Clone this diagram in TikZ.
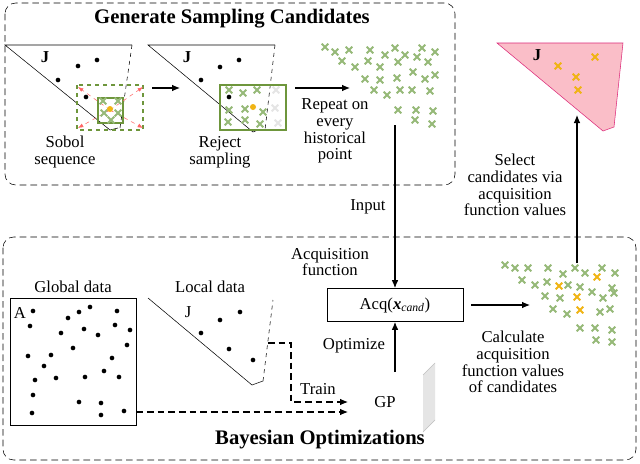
\documentclass[tikz,border=0pt]{standalone}
\usepackage{fontspec}
\setmainfont{Liberation Serif}
\usetikzlibrary{shapes.misc,arrows.meta}
\definecolor{gcr}{RGB}{150,185,120}
\definecolor{ycr}{RGB}{240,180,20}
\definecolor{gbox}{RGB}{110,150,60}
\definecolor{pinkf}{RGB}{250,190,200}
\definecolor{pinkd}{RGB}{220,40,120}
\begin{document}
\begin{tikzpicture}[x=0.75pt,y=-0.75pt,font=\rmfamily,
  gx/.style={cross out,draw=gcr,line width=1.4pt,minimum size=3.6pt,inner sep=0pt},
  lx/.style={cross out,draw=gray!20,line width=1.4pt,minimum size=3.6pt,inner sep=0pt},
  yx/.style={cross out,draw=ycr,line width=1.4pt,minimum size=3.6pt,inner sep=0pt},
  dot/.style={circle,fill=black,inner sep=0pt,minimum size=3.5pt},
  ydot/.style={circle,fill=ycr,inner sep=0pt,minimum size=4.5pt},
  grp/.style={draw,dash pattern=on 5pt off 3pt,rounded corners=8pt},
  lbl/.style={align=center,font=\rmfamily\fontsize{12.5}{12.5}\selectfont},
  ttl/.style={font=\rmfamily\fontsize{15.5}{17}\selectfont\bfseries},
  arr/.style={-{Latex[length=6pt,width=5pt]},thick},
  darr/.style={-{Latex[length=6pt,width=5pt]},thick,dash pattern=on 5pt off 3pt}]
\path[use as bounding box,fill=white] (0,0) rectangle (640,464);
% groups
\draw[grp] (5,3) rectangle (455,185);
\draw[grp] (3,237) rectangle (636,460);
\node[ttl] (t1) at (232,19) {Generate Sampling Candidates};
\node[ttl] (t2) at (320,440) {Bayesian Optimizations};
% Sobol panel
\draw (132,45) -- (5,45) -- (110,130) -- (118,128);
\draw[dashed] (132,45) -- (120,128);
\node[lbl] (j1) at (45,57) {\bfseries J};
\foreach \p in {(78,66),(97,60),(58,80),(86,97)} \node[dot] at \p {};
\draw[gbox,dashed,thick] (77,85) rectangle (143,130);
\draw[gbox,thick] (98,98) rectangle (123,123);
\foreach \p in {(78,87),(143,87),(78,128),(143,128)} \draw[red!60,dashed,-{Latex[length=4pt]}] (110,110) -- \p;
\foreach \p in {(103,101),(118,101),(104,113),(118,113),(111,120)} \node[gx] at \p {};
\node[ydot] at (110,109) {};
\node[lbl] (s1) at (65,152) {Sobol\\sequence};
\draw[arr] (152,88) -- (180,88);
% Reject panel
\draw (275,45) -- (148,45) -- (253,132) -- (258,130);
\draw[dashed] (275,45) -- (265,130);
\node[lbl] (j2) at (187,57) {\bfseries J};
\foreach \p in {(220,67),(239,60),(201,80)} \node[dot] at \p {};
\draw[gbox,thick] (220,85) rectangle (286,130);
\foreach \p in {(276,90),(275,108),(278,123)} \node[lx] at \p {};
\foreach \p in {(229,90),(243,93),(257,90),(229,110),(245,109),(263,112),(228,122),(245,120),(260,124)} \node[gx] at \p {};
\node[dot] at (229,97) {};
\node[ydot] at (253,107) {};
\node[lbl] (s2) at (220,152) {Reject\\sampling};
\draw[arr] (295,88) -- (350,88);
\node[lbl] (rep) at (335,131) {Repeat on\\every\\historical\\point};
% candidate cluster
\foreach \p in {(325,47),(335,52),(349,50),(370,50),(385,55),(395,48),(405,55),(422,48),(435,52),(342,61),(355,67),(368,61),(380,67),(398,62),(417,57),(428,62),(365,79),(380,80),(397,78),(413,72),(425,79),(435,75),(374,90),(387,95),(400,90),(412,90),(430,91),(398,110),(416,110),(433,111),(415,120),(432,124)} \node[gx] at \p {};
\coordinate (cin) at (395,125);
% Acq
\node[draw,minimum width=102pt,minimum height=25pt,font=\rmfamily\fontsize{12.5}{13}\selectfont] (acq) at (395,305) {Acq(\textbf{\textit{x}}\textsubscript{\textit{cand}})};
\draw[arr] (cin) -- (acq.north);
\node[lbl] (inp) at (368,207) {Input};
\node[lbl] (af) at (330,262) {Acquisition\\function};
\node[lbl] (gp) at (385,402) {GP};
\draw[arr] (395,372) -- (acq.south);
\node[lbl] (opt) at (354,346) {Optimize};
\fill[gray!20] (423,375) -- (435,363) -- (435,420) -- (423,432) -- cycle;
\draw[gray!50,thin] (423,375) -- (435,363) (423,432) -- (435,420);
% Global data
\node[draw,minimum width=94.5pt,minimum height=95pt] (glob) at (73,361.5) {};
\node[lbl] (gl) at (73,287) {Global data};
\node[lbl] (a) at (20,313) {A};
\foreach \p in {(33,311),(30,326),(68,318),(79,312),(90,307),(117,311),(61,333),(84,329),(98,335),(115,325),(130,330),(28,356),(51,355),(73,348),(127,345),(44,366),(35,380),(56,378),(85,377),(104,371),(112,358),(119,377),(33,395),(79,402),(101,403),(32,413),(101,415),(124,411)} \node[dot] at \p {};
% Local data
\draw (148,298) -- (252,385) -- (263,381);
\draw[dashed] (263,381) -- (273,300);
\node[lbl] (ll) at (210,287) {Local data};
\node[lbl] (j3) at (188,312) {J};
\foreach \p in {(201,333),(220,320),(240,312),(229,349),(253,360)} \node[dot] at \p {};
\coordinate (lstart) at (268,343);
\draw[darr] (lstart) -- (291,343) -- (291,402) -- (348,402);
\draw[darr] (glob.east |- 0,412) -- (348,412);
\node[lbl] (tr) at (318,389) {Train};
% Calculate
\draw[arr] (acq.east) ++(8,0) -- (530,305);
\node[lbl] (calc) at (513,362) {Calculate\\acquisition\\function values\\of candidates};
\foreach \p in {(505,265),(515,268),(528,268),(548,268),(563,274),(575,268),(585,273),(602,268),(615,273),(522,280),(535,285),(547,282),(568,285),(580,287),(612,288),(545,296),(560,298),(592,292),(603,298),(614,293),(553,309),(567,314),(600,312),(610,309),(580,328),(595,328),(612,330),(596,340),(612,342)} \node[gx] at \p {};
\foreach \p in {(559,286),(577,297),(597,277),(580,310)} \node[yx] at \p {};
\coordinate (selb) at (577,263);
\draw[arr] (selb) -- (577,115);
\node[lbl] (sel) at (515,185) {Select\\candidates via\\acquisition\\function values};
% Result
\draw[pinkd,fill=pinkf] (497,43) -- (623,43) -- (614,127) -- (603,131) -- cycle;
\node[lbl] (j4) at (537,55) {\bfseries J};
\foreach \p in {(558,66),(595,57),(576,77),(578,90)} \node[yx] at \p {};
\end{tikzpicture}
\end{document}
